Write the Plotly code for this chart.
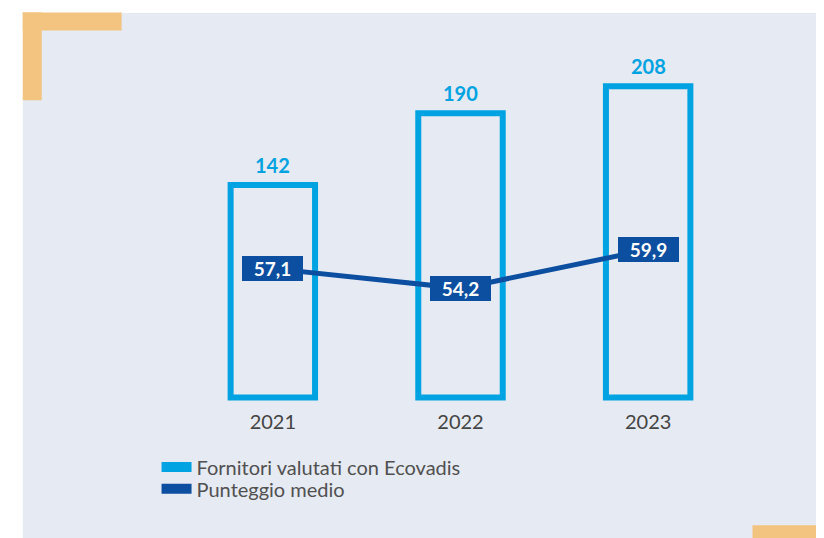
import plotly.graph_objects as go

years = ["2021", "2022", "2023"]
fornitori = [142, 190, 208]
punteggio = [57.1, 54.2, 59.9]
punteggio_labels = ["57,1", "54,2", "59,9"]
series_names = ["Fornitori valutati con Ecovadis", "Punteggio medio"]

CYAN = "#00a3e2"
NAVY = "#0c4ea0"
PANEL = "#e6eaf2"
ORANGE = "#f2c47f"
FONT = "Lato"

W, H = 824, 538
OFF = 8  # page offset of the figure in the screenshot
L, R = 178.5 - OFF, 742.5 - OFF
T, B = 27.5 - OFF, 402.5 - OFF


def px_x(p):
    return (p - OFF - L) / (R - L)


def px_y(p):
    return (B - (p - OFF)) / (B - T)


fig = go.Figure()

fig.add_trace(go.Bar(
    x=years, y=fornitori, width=0.45,
    marker=dict(color="rgba(0,0,0,0)", line=dict(color=CYAN, width=6)),
    showlegend=False, hoverinfo="skip",
))

fig.add_trace(go.Scatter(
    x=years, y=punteggio, yaxis="y2", mode="lines",
    line=dict(color=NAVY, width=5), showlegend=False, hoverinfo="skip",
))

# legend entries
fig.add_trace(go.Scatter(x=[None], y=[None], mode="lines", name=series_names[0],
                         line=dict(color=CYAN, width=11), legend="legend"))
fig.add_trace(go.Scatter(x=[None], y=[None], mode="lines", name=series_names[1],
                         line=dict(color=NAVY, width=11), legend="legend2"))

annotations = []
for i, v in enumerate(fornitori):
    annotations.append(dict(
        x=i, y=v, xref="x", yref="y", text=f"<b>{v}</b>", showarrow=False,
        yanchor="bottom", yshift=6, font=dict(family=FONT, size=20, color=CYAN),
    ))
for i, (v, lab) in enumerate(zip(punteggio, punteggio_labels)):
    annotations.append(dict(
        x=i, y=v, xref="x", yref="y2", text=f"<b>{lab}</b>", showarrow=False,
        xanchor="center", yanchor="middle", bgcolor=NAVY, width=59, height=23,
        borderpad=1, borderwidth=0,
        font=dict(family=FONT, size=19, color="white"),
    ))

shapes = [
    dict(type="rect", xref="paper", yref="paper", layer="below",
         x0=px_x(22), x1=px_x(840), y0=px_y(12.5), y1=px_y(550),
         fillcolor=PANEL, line=dict(width=0)),
    dict(type="rect", xref="paper", yref="paper", layer="below",
         x0=px_x(22), x1=px_x(121), y0=px_y(12), y1=px_y(30),
         fillcolor=ORANGE, line=dict(width=0)),
    dict(type="rect", xref="paper", yref="paper", layer="below",
         x0=px_x(22), x1=px_x(41), y0=px_y(12), y1=px_y(100),
         fillcolor=ORANGE, line=dict(width=0)),
    dict(type="rect", xref="paper", yref="paper", layer="below",
         x0=px_x(753), x1=px_x(840), y0=px_y(526), y1=px_y(550),
         fillcolor=ORANGE, line=dict(width=0)),
]

legend_common = dict(xanchor="left", yanchor="top", orientation="v",
                     bgcolor="rgba(0,0,0,0)", itemwidth=30,
                     font=dict(family=FONT, size=20, color="#505050"))

fig.update_layout(
    width=W, height=H, autosize=False,
    margin=dict(l=L, r=W - R, t=T, b=H - B, pad=0),
    paper_bgcolor="white", plot_bgcolor="rgba(0,0,0,0)",
    font=dict(family=FONT, color="#444444"),
    xaxis=dict(type="category", range=[-0.5, 2.5], showgrid=False, zeroline=False,
               showline=False, ticks="", ticklabelstandoff=6,
               tickfont=dict(family=FONT, size=20, color="#444444")),
    yaxis=dict(range=[-3, 247], visible=False, showgrid=False, zeroline=False),
    yaxis2=dict(range=[37.49, 92.48], overlaying="y", side="right", visible=False,
                showgrid=False, zeroline=False),
    showlegend=True,
    legend=dict(x=px_x(156), y=px_y(448), **legend_common),
    legend2=dict(x=px_x(156), y=px_y(470), **legend_common),
    annotations=annotations,
    shapes=shapes,
)

fig.write_html("out.html")
